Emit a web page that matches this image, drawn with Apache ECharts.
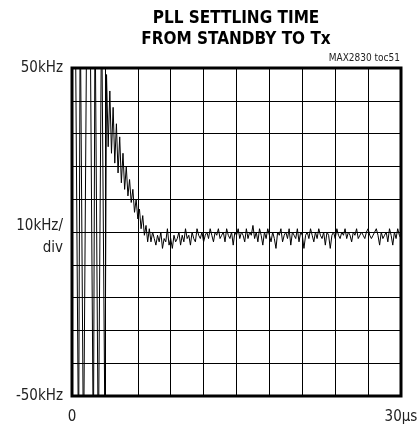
<!DOCTYPE html>
<html>
<head>
<meta charset="utf-8">
<script src="https://cdn.jsdelivr.net/npm/echarts@6/dist/echarts.min.js"></script>
<style>
  html, body { margin: 0; padding: 0; background: #fff; }
  #chart { width: 417px; height: 428px; }
</style>
</head>
<body>
<div id="chart"></div>
<script>
// scope trace: frequency error (kHz) sampled every DT microseconds
const DT = 0.15;
const freqKHz = [
  70, 70, 70, 70, -70, 70, 70, -70, -70, 70,
  70, 70, 70, -70, 70, 70, -70, -70, 70, 70,
  -60, 48, 26, 43, 24, 38, 21, 33, 18, 29,
  15, 24, 13, 20, 11, 16, 9, 13, 6, 10,
  4, 7, 1, 5, -1, 2, -3, 1, -3, 0,
  -2, -4, -1, -3, 0, -5, -2, -3, 1, -4,
  -2, -5, -1, -3, -2, 0, -4, -1, -3, 1,
  -2, -1, -4, 0, -2, -3, 1, -1, -2, 0,
  -3, -1, 0, -2, 1, -1, -3, 0, -1, 1,
  -2, -1, 0, -3, 1, -1, -2, 0, -4, 0,
  -1, 1, -2, 0, -1, -3, 1, -2, 0, -1,
  2, -2, 0, -3, 1, -1, -4, 0, -2, 1,
  -1, -3, 0, -2, -5, 0, -1, 1, -3, -1,
  0, -2, 1, -4, 0, -1, -2, 1, -3, 0,
  -1, -5, -1, 0, -2, 1, -1, -3, 0, -2,
  1, -1, -2, 0, -4, 0, -1, -5, -1, 0,
  -2, 1, -1, -2, 0, -1, 1, -2, 0, -1,
  -3, 0, -1, 1, -2, -1, 0, -1, -2, 0,
  1, -1, -2, -1, 0, 1, -1, -4, 0, -2,
  -1, 0, -3, 1, -1, -4, 0, -2, 1, -1,
  -2
];
const yTicks = { '50': '50kHz', '0': '{c|10kHz/\ndiv}', '-50': '-50kHz' };
const xTicks = { '0': '0', '30': '30\u00b5s' };
const titleLines = ['PLL SETTLING TIME', 'FROM STANDBY TO Tx'];
const partLabel = 'MAX2830 toc51';

const FONT = '"Liberation Sans Narrow", "DejaVu Sans Condensed", "Liberation Sans", sans-serif';

const chart = echarts.init(document.getElementById('chart'));
chart.setOption({
  animation: false,
  backgroundColor: '#fff',
  grid: {
    left: 72, right: 16, top: 68, bottom: 32,
    outerBoundsMode: 'none', containLabel: false,
    show: true, borderColor: '#000', borderWidth: 3, backgroundColor: 'transparent'
  },
  graphic: [
    { type: 'text', x: 236, y: 19, style: { text: titleLines[0], font: 'bold 17px ' + FONT, fill: '#000', textAlign: 'center', textVerticalAlign: 'middle' } },
    { type: 'text', x: 236, y: 40, style: { text: titleLines[1], font: 'bold 17px ' + FONT, fill: '#000', textAlign: 'center', textVerticalAlign: 'middle' } },
    { type: 'text', x: 400, y: 58, style: { text: partLabel, font: '10px ' + FONT, fill: '#222', textAlign: 'right', textVerticalAlign: 'middle' } }
  ],
  xAxis: {
    type: 'value', min: 0, max: 30, interval: 3,
    axisLine: { show: false }, axisTick: { show: false },
    splitLine: { show: true, lineStyle: { color: '#000', width: 1 } },
    axisLabel: {
      margin: 14, fontFamily: FONT, fontSize: 15, color: '#222',
      showMinLabel: true, showMaxLabel: true,
      formatter: (v) => xTicks[String(v)] || ''
    }
  },
  yAxis: {
    type: 'value', min: -50, max: 50, interval: 10,
    axisLine: { show: false }, axisTick: { show: false },
    splitLine: { show: true, lineStyle: { color: '#000', width: 1 } },
    axisLabel: {
      margin: 9, fontFamily: FONT, fontSize: 15, color: '#222',
      align: 'right',
      showMinLabel: true, showMaxLabel: true,
      rich: { c: { fontFamily: FONT, fontSize: 15, color: '#222', lineHeight: 22, padding: [10, 0, 0, 0], align: 'right' } },
      formatter: (v) => yTicks[String(v)] || ''
    }
  },
  series: [{
    type: 'line',
    data: freqKHz.map((v, i) => [+(i * DT).toFixed(2), v]),
    showSymbol: false,
    clip: true,
    lineStyle: { color: '#000', width: 1 }
  }]
});
</script>
</body>
</html>
